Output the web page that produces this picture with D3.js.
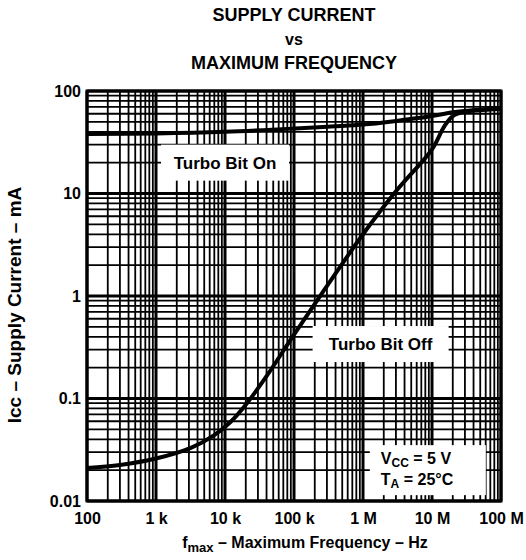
<!DOCTYPE html>
<html>
<head>
<meta charset="utf-8">
<script src="https://cdn.jsdelivr.net/npm/d3@7"></script>
<style>
  html, body { margin: 0; padding: 0; background: #fff; }
  svg text { font-family: "Liberation Sans", Arial, Helvetica, sans-serif; font-weight: bold; fill: #000; }
</style>
</head>
<body>
<svg id="chart" width="526" height="560"></svg>
<script>
// ---- data ----
const titleLines = ["SUPPLY CURRENT", "vs", "MAXIMUM FREQUENCY"];
const xTickValues = [1e2, 1e3, 1e4, 1e5, 1e6, 1e7, 1e8];
const xTickLabels = ["100", "1 k", "10 k", "100 k", "1 M", "10 M", "100 M"];
const yTickValues = [0.01, 0.1, 1, 10, 100];
const yTickLabels = ["0.01", "0.1", "1", "10", "100"];

// Turbo Bit On (mA vs Hz)
const onFreq    = [1e2, 1e3, 1e4, 1e5, 1e6, 3e6, 1e7, 2e7, 4e7, 1e8];
const onCurrent = [38, 38.5, 40, 43, 47, 51, 57, 62, 65, 67];

// Turbo Bit Off (mA vs Hz)
const offFreq    = [1e2, 3e2, 1e3, 3.2e3, 7e3, 1.2e4, 2e4, 4e4, 1e5, 3e5, 1e6, 3e6, 1e7, 1.5e7, 2e7, 3e7, 5e7, 1e8];
const offCurrent = [0.021, 0.0225, 0.026, 0.033, 0.044, 0.059, 0.087, 0.165, 0.42, 1.25, 4.0, 10.5, 27, 45, 57, 63, 65, 67];

// ---- layout ----
const svg = d3.select("#chart");
const L = 87, R = 501, T = 91, B = 501;

const x = d3.scaleLog().domain([1e2, 1e8]).range([L, R]);
const y = d3.scaleLog().domain([0.01, 100]).range([B, T]);

// title
svg.append("g").selectAll("text").data(titleLines).join("text")
  .attr("x", 294).attr("y", (d, i) => 21 + i * 24)
  .attr("text-anchor", "middle")
  .style("font-size", (d, i) => i === 1 ? "16px" : "18px")
  .text(d => d);

// grid
const minorX = [], minorY = [];
for (let e = 2; e < 8; e++) for (let m = 2; m <= 9; m++) minorX.push(m * Math.pow(10, e));
for (let e = -2; e < 2; e++) for (let m = 2; m <= 9; m++) minorY.push(m * Math.pow(10, e));

const grid = svg.append("g");
grid.selectAll("line.mx").data(minorX).join("line")
  .attr("x1", d => x(d)).attr("x2", d => x(d)).attr("y1", T).attr("y2", B)
  .attr("stroke", "#000").attr("stroke-width", 1.8);
grid.selectAll("line.my").data(minorY).join("line")
  .attr("y1", d => y(d)).attr("y2", d => y(d)).attr("x1", L).attr("x2", R)
  .attr("stroke", "#000").attr("stroke-width", 1.8);
grid.selectAll("line.dx").data(xTickValues).join("line")
  .attr("x1", d => x(d)).attr("x2", d => x(d)).attr("y1", T).attr("y2", B)
  .attr("stroke", "#000").attr("stroke-width", 3);
grid.selectAll("line.dy").data(yTickValues).join("line")
  .attr("y1", d => y(d)).attr("y2", d => y(d)).attr("x1", L).attr("x2", R)
  .attr("stroke", "#000").attr("stroke-width", 3);

// annotation boxes (white, covering grid)
function box(cx, cy, w, h) {
  svg.append("rect").attr("x", cx - w / 2).attr("y", cy - h / 2)
    .attr("width", w).attr("height", h).attr("fill", "#fff");
}
box(x(1e4), y(20), 128, 36);
box(x(1.8e6), y(0.34), 136, 36);
box(x(8.7e6), y(0.02), 116, 50);

// curves
const line = d3.line().x(d => x(d[0])).y(d => y(d[1])).curve(d3.curveCatmullRom.alpha(0.5));
svg.append("path").datum(d3.zip(onFreq, onCurrent)).attr("d", line)
  .attr("fill", "none").attr("stroke", "#000").attr("stroke-width", 4);
svg.append("path").datum(d3.zip(offFreq, offCurrent)).attr("d", line)
  .attr("fill", "none").attr("stroke", "#000").attr("stroke-width", 4);

// border
svg.append("rect").attr("x", L).attr("y", T).attr("width", R - L).attr("height", B - T)
  .attr("fill", "none").attr("stroke", "#000").attr("stroke-width", 3);

// axes (labels only)
const xAxis = d3.axisBottom(x).tickValues(xTickValues)
  .tickFormat((d, i) => xTickLabels[i]).tickSize(0).tickPadding(12);
const gx = svg.append("g").attr("transform", `translate(0,${B})`).call(xAxis);
gx.select(".domain").remove();
gx.attr("font-family", null).attr("font-size", null);
gx.selectAll("text").style("font-size", "16px");

const yAxis = d3.axisLeft(y).tickValues(yTickValues)
  .tickFormat((d, i) => yTickLabels[i]).tickSize(0).tickPadding(6);
const gy = svg.append("g").attr("transform", `translate(${L},0)`).call(yAxis);
gy.select(".domain").remove();
gy.attr("font-family", null).attr("font-size", null);
gy.selectAll("text").style("font-size", "16px");

// annotation texts
svg.append("text").attr("x", x(1e4)).attr("y", y(20) + 6).attr("text-anchor", "middle")
  .style("font-size", "17px").text("Turbo Bit On");
svg.append("text").attr("x", x(1.8e6)).attr("y", y(0.34) + 6).attr("text-anchor", "middle")
  .style("font-size", "17px").text("Turbo Bit Off");

const vt = svg.append("text").attr("x", x(8.7e6) - 47).attr("y", y(0.02) - 6).style("font-size", "16px");
vt.append("tspan").text("V");
vt.append("tspan").attr("dy", 3).style("font-size", "12px").text("CC");
vt.append("tspan").attr("dy", -3).text(" = 5 V");
const tt = svg.append("text").attr("x", x(8.7e6) - 47).attr("y", y(0.02) + 15).style("font-size", "16px");
tt.append("tspan").text("T");
tt.append("tspan").attr("dy", 3).style("font-size", "12px").text("A");
tt.append("tspan").attr("dy", -3).text(" = 25°C");

// axis titles
const xt = svg.append("text").attr("x", 305).attr("y", 548).attr("text-anchor", "middle").style("font-size", "16px");
xt.append("tspan").text("f");
xt.append("tspan").attr("dy", 4).style("font-size", "13px").text("max");
xt.append("tspan").attr("dy", -4).text(" – Maximum Frequency – Hz");

svg.append("text").attr("transform", "translate(21,305) rotate(-90)")
  .attr("text-anchor", "middle").style("font-size", "19px")
  .text("Icc – Supply Current – mA");
</script>
</body>
</html>
